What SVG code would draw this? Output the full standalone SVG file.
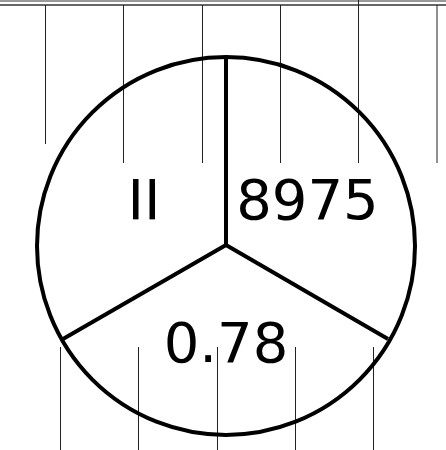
<svg xmlns="http://www.w3.org/2000/svg" width="446" height="450" viewBox="0 0 446 450">
<style>
.bg{fill:#fff}
.thin{stroke:#222;stroke-width:1;fill:none}
.heavy{stroke:#000;stroke-width:4;fill:none}
.lbl{font-family:"DejaVu Sans",sans-serif;font-size:56px;fill:#000;text-anchor:middle}
</style>
<rect class="bg" x="0" y="0" width="446" height="450"/>
<g id="frame">
<rect x="0" y="0" width="446" height="2" fill="#999"/>
<line x1="0" y1="5" x2="446" y2="5" stroke="#333" stroke-width="1.5"/>
</g>
<g id="ticks">
<line class="thin" x1="45.5" y1="5" x2="45.5" y2="144"/>
<line class="thin" x1="123.5" y1="5" x2="123.5" y2="163"/>
<line class="thin" x1="202.5" y1="5" x2="202.5" y2="163"/>
<line class="thin" x1="280.5" y1="5" x2="280.5" y2="163"/>
<line class="thin" x1="358.5" y1="0" x2="358.5" y2="163"/>
<line class="thin" x1="437" y1="5" x2="437" y2="163" stroke="#666"/>
<line class="thin" x1="60.5" y1="347" x2="60.5" y2="450"/>
<line class="thin" x1="138.5" y1="347" x2="138.5" y2="450"/>
<line class="thin" x1="217.5" y1="347" x2="217.5" y2="450"/>
<line class="thin" x1="295.5" y1="347" x2="295.5" y2="450"/>
<line class="thin" x1="373.5" y1="347" x2="373.5" y2="450"/>
</g>
<g id="pie">
<circle class="heavy" cx="226" cy="246" r="189"/>
</g>
<g id="connectors">
<line class="heavy" x1="226" y1="245" x2="226" y2="57"/>
<line class="heavy" x1="226" y1="245" x2="63" y2="339"/>
<line class="heavy" x1="226" y1="245" x2="388" y2="339"/>
</g>
<g id="label-II"><text class="lbl" x="144" y="219">II</text></g>
<g id="label-8975"><text class="lbl" x="307.5" y="219">8975</text></g>
<g id="label-078"><text class="lbl" x="226" y="362">0.78</text></g>
</svg>
